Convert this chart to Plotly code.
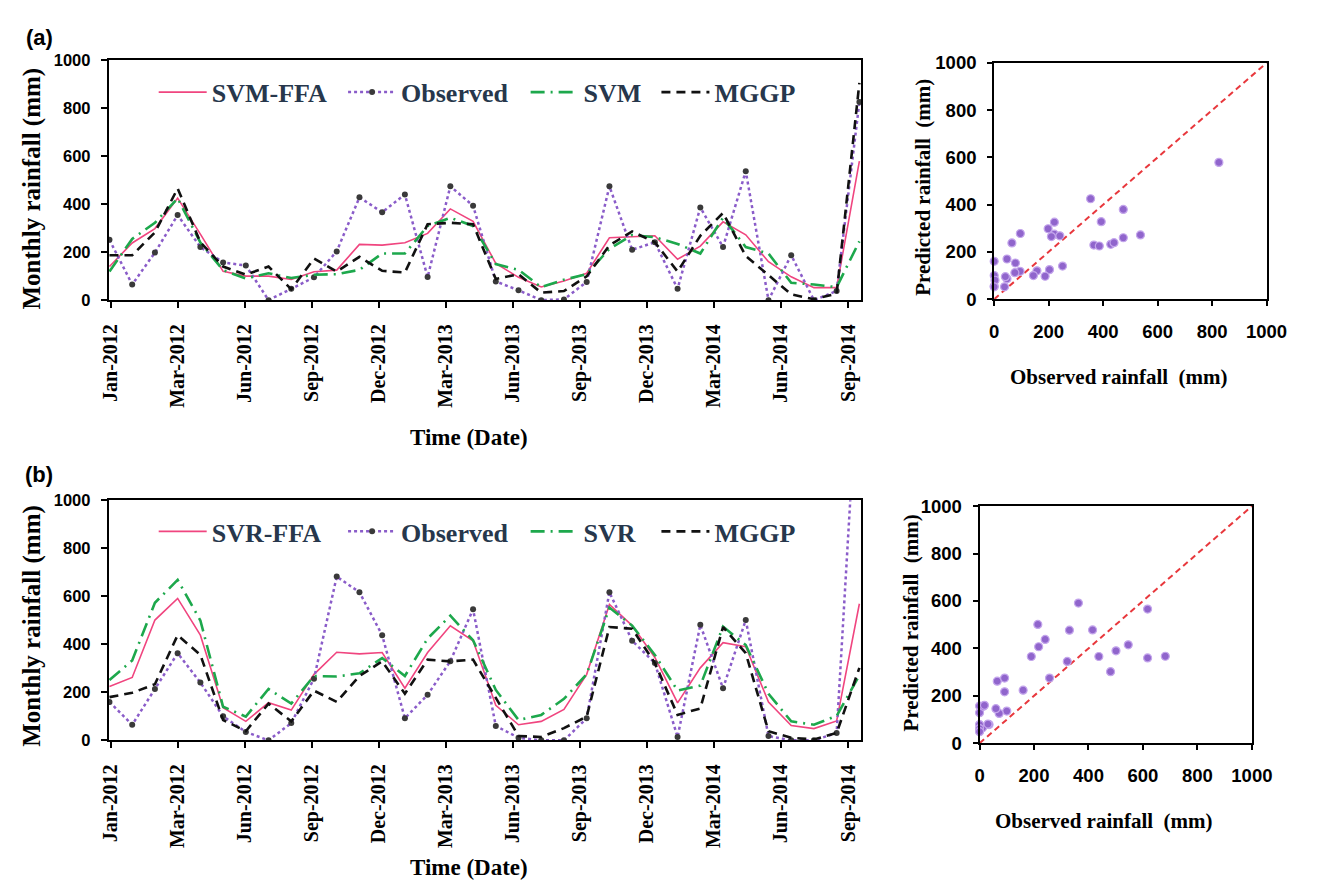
import plotly.graph_objects as go

# ---------------- data ----------------
MONTH_LABELS = ["Jan-2012", "Mar-2012", "Jun-2012", "Sep-2012", "Dec-2012", "Mar-2013",
                "Jun-2013", "Sep-2013", "Dec-2013", "Mar-2014", "Jun-2014", "Sep-2014"]

# panel (a)
OBS_A = [251, 65, 198, 354, 221, 157, 144, 0, 47, 95, 203, 428, 366, 440, 96, 474, 393,
         78, 41, 0, 3, 76, 474, 210, 241, 47, 386, 221, 537, 0, 187, 0, 38, 825]
SVM_FFA_A = [140, 238, 298, 425, 275, 120, 100, 100, 86, 118, 125, 232, 229, 239, 278, 380, 328,
             153, 95, 55, 80, 112, 260, 265, 268, 170, 225, 326, 272, 160, 97, 52, 52, 579]
SVM_A = [119, 255, 322, 424, 240, 125, 90, 112, 92, 106, 108, 126, 194, 194, 309, 343, 309,
         150, 126, 54, 85, 108, 214, 271, 262, 234, 194, 343, 221, 194, 72, 65, 54, 245]
MGGP_A = [187, 187, 282, 465, 241, 140, 106, 140, 45, 173, 119, 180, 122, 115, 316, 322, 316,
          88, 108, 31, 38, 99, 228, 286, 241, 119, 268, 363, 184, 106, 24, 4, 27, 905]

# panel (b)
OBS_B = [160, 65, 214, 363, 241, 100, 35, 0, 72, 257, 682, 617, 438, 92, 190, 330, 546,
         60, 11, 0, 0, 92, 617, 415, 322, 14, 481, 217, 501, 18, 0, 0, 31, 1650]
SVR_FFA_B = [224, 262, 501, 591, 438, 136, 79, 157, 126, 275, 367, 360, 366, 217, 366, 477, 415,
             146, 65, 79, 129, 275, 566, 478, 345, 156, 302, 407, 390, 160, 62, 49, 81, 569]
SVR_B = [251, 333, 573, 668, 499, 140, 99, 214, 153, 268, 266, 279, 343, 268, 424, 519, 417,
         210, 85, 106, 173, 275, 553, 478, 356, 207, 228, 474, 397, 194, 79, 65, 102, 271]
MGGP_B = [180, 198, 234, 438, 356, 85, 38, 153, 79, 207, 160, 268, 329, 194, 336, 329, 336,
          180, 18, 14, 51, 99, 472, 465, 322, 106, 133, 472, 363, 38, 11, 4, 31, 302]

ONE_TO_ONE = [0, 1000]
AXIS_MAX = 1000

# ---------------- layout helpers ----------------
# page is 1318x896; the default 8px body margin is left around the figure
PAGE_W, PAGE_H, BODY_M = 1318, 896, 8
W, H = PAGE_W - 2 * BODY_M, PAGE_H - 2 * BODY_M
def fx(px):
    return (px - BODY_M) / W
def fy(py):
    return 1 - (py - BODY_M) / H

FFA_COLOR = "#F0457F"
OBS_COLOR = "#8A5CC9"
OBS_MARK = "#3A3A3A"
SVM_COLOR = "#1DA84C"
MGGP_COLOR = "#111111"
LEG_COLOR = "#27374C"
SC_COLOR = "#9065CC"
SERIF = "Liberation Serif"
SANS = "Liberation Sans"

idx = list(range(len(OBS_A)))
tick_step = 2.95
tickvals = [0.05 + tick_step * k for k in range(len(MONTH_LABELS))]

fig = go.Figure()

def add_ts(obs, ffa, svm, mggp, names, xa, ya, legs):
    fig.add_trace(go.Scatter(x=idx, y=ffa, mode="lines", name=names[0],
                             line=dict(color=FFA_COLOR, width=1.6),
                             xaxis=xa, yaxis=ya, legend=legs[0]))
    fig.add_trace(go.Scatter(x=idx, y=obs, mode="lines+markers", name=names[1],
                             line=dict(color=OBS_COLOR, width=2.5, dash="dot"),
                             marker=dict(color=OBS_MARK, size=6),
                             xaxis=xa, yaxis=ya, legend=legs[1]))
    fig.add_trace(go.Scatter(x=idx, y=svm, mode="lines", name=names[2],
                             line=dict(color=SVM_COLOR, width=2.6, dash="14px,6px,2px,6px"),
                             xaxis=xa, yaxis=ya, legend=legs[2]))
    fig.add_trace(go.Scatter(x=idx, y=mggp, mode="lines", name=names[3],
                             line=dict(color=MGGP_COLOR, width=2.6, dash="9px,6px"),
                             xaxis=xa, yaxis=ya, legend=legs[3]))

add_ts(OBS_A, SVM_FFA_A, SVM_A, MGGP_A, ["SVM-FFA", "Observed", "SVM", "MGGP"],
       "x", "y", ["legend", "legend2", "legend3", "legend4"])
add_ts(OBS_B, SVR_FFA_B, SVR_B, MGGP_B, ["SVR-FFA", "Observed", "SVR", "MGGP"],
       "x3", "y3", ["legend5", "legend6", "legend7", "legend8"])

def add_scatter(obs, pred, xa, ya):
    pts = [(o, p) for o, p in zip(obs, pred) if o <= AXIS_MAX and p <= AXIS_MAX]
    fig.add_trace(go.Scatter(x=ONE_TO_ONE, y=ONE_TO_ONE, mode="lines", showlegend=False,
                             line=dict(color="#E8383D", width=2, dash="6px,4px"),
                             xaxis=xa, yaxis=ya))
    fig.add_trace(go.Scatter(x=[p[0] for p in pts], y=[p[1] for p in pts], mode="markers",
                             showlegend=False, cliponaxis=False,
                             marker=dict(color=SC_COLOR, size=8,
                                         line=dict(color="#C4A6EC", width=1.2)),
                             xaxis=xa, yaxis=ya))

add_scatter(OBS_A, SVM_FFA_A, "x2", "y2")
add_scatter(OBS_B, SVR_FFA_B, "x4", "y4")

ts_x_common = dict(range=[-0.03, 33.09], tickmode="array", tickvals=tickvals,
                   ticktext=MONTH_LABELS, tickangle=-90, ticks="outside", ticklen=6,
                   tickwidth=1.5, tickcolor="black", showline=True, linewidth=2,
                   linecolor="black", mirror=True, showgrid=False, zeroline=False,
                   ticklabelstandoff=8,
                   tickfont=dict(family=SERIF, size=20, color="black", weight="bold"))
ts_y_common = dict(range=[0, AXIS_MAX], dtick=200, ticks="outside", ticklen=6, tickwidth=1.5,
                   tickcolor="black", showline=True, linewidth=2, linecolor="black",
                   mirror=True, showgrid=False, zeroline=False, ticklabelstandoff=7,
                   tickfont=dict(family=SANS, size=16.5, color="black", weight="bold"))
sc_x_common = dict(range=[0, AXIS_MAX], dtick=200, ticks="outside", ticklen=5, tickwidth=1.5,
                   tickcolor="black", showline=True, linewidth=2, linecolor="black",
                   mirror=True, showgrid=False, zeroline=False, ticklabelstandoff=10,
                   tickfont=dict(family=SANS, size=18.5, color="black", weight="bold"))
sc_y_common = dict(sc_x_common)
sc_y_common["ticklabelstandoff"] = 7

fig.update_layout(
    width=W, height=H, margin=dict(l=0, r=0, t=0, b=0),
    paper_bgcolor="white", plot_bgcolor="white",
    xaxis=dict(ts_x_common, domain=[fx(101), fx(872)], anchor="y"),
    yaxis=dict(ts_y_common, domain=[fy(296), fy(50)], anchor="x"),
    xaxis3=dict(ts_x_common, domain=[fx(101), fx(872)], anchor="y3"),
    yaxis3=dict(ts_y_common, domain=[fy(747), fy(501)], anchor="x3"),
    xaxis2=dict(sc_x_common, domain=[fx(1008), fx(1287)], anchor="y2"),
    yaxis2=dict(sc_y_common, domain=[fy(295), fy(53)], anchor="x2"),
    xaxis4=dict(sc_x_common, domain=[fx(993), fx(1272)], anchor="y4"),
    yaxis4=dict(sc_y_common, domain=[fy(750), fy(507)], anchor="x4"),
)

leg_font = dict(family=SERIF, size=26, color=LEG_COLOR, weight="bold")
leg_x = [147, 341, 528, 662]
for panel, ycen in ((0, 83), (1, 533)):
    for k, lx in enumerate(leg_x):
        name = "legend" if (panel == 0 and k == 0) else "legend%d" % (panel * 4 + k + 1)
        fig.update_layout({name: dict(x=fx(lx), y=fy(ycen), xanchor="left", yanchor="middle",
                                      orientation="h", font=leg_font, itemwidth=48,
                                      bgcolor="rgba(0,0,0,0)", borderwidth=0)})

def ann(text, x, y, size, family=SERIF, angle=0):
    fig.add_annotation(text=text, x=fx(x), y=fy(y), xref="paper", yref="paper",
                       showarrow=False, textangle=angle, xanchor="center", yanchor="middle",
                       font=dict(family=family, size=size, color="black", weight="bold"))

ann("(a)", 30, 27, 22, family=SANS)
ann("(b)", 30, 475, 22, family=SANS)
ann("Monthly rainfall (mm)", 22, 182, 25, angle=-90)
ann("Monthly rainfall (mm)", 22, 630, 25, angle=-90)
ann("Time (Date)", 470, 437, 23)
ann("Time (Date)", 470, 877, 23)
ann("Observed rainfall  (mm)", 1136, 375, 21)
ann("Predicted rainfall  (mm)", 935, 180, 21, angle=-90)
ann("Observed rainfall  (mm)", 1120, 830, 21)
ann("Predicted rainfall  (mm)", 923, 627, 21, angle=-90)

fig.write_html("out.html", config={"displayModeBar": False})
